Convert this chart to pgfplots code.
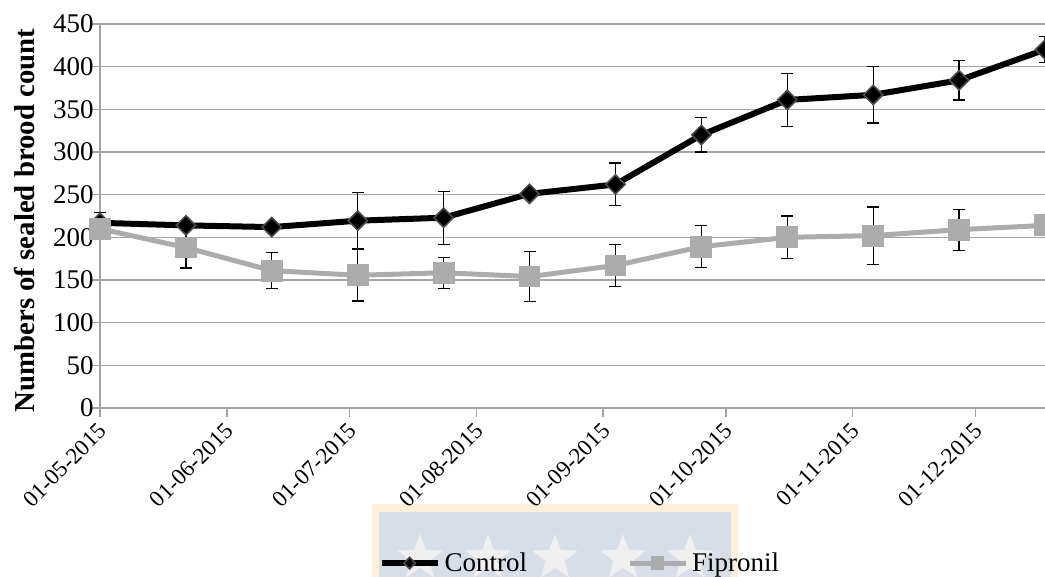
\documentclass[border=0pt]{standalone}
\usepackage{pgfplots}
\pgfplotsset{compat=1.18}
\usepackage{fontspec}
\setmainfont{Liberation Serif}
\usetikzlibrary{shapes.geometric}
\definecolor{gridgray}{RGB}{165,165,165}
\definecolor{fipgray}{RGB}{172,172,172}
\definecolor{wmcream}{RGB}{253,240,216}
\definecolor{wmblue}{RGB}{216,222,232}
\definecolor{wmstar}{RGB}{240,240,240}
\begin{document}
\begin{tikzpicture}
% faint logo box behind the legend
\fill[wmcream] (136pt,-84.5pt) rectangle (319pt,-48pt);
\fill[wmblue] (139.5pt,-84.5pt) rectangle (315.5pt,-51.85pt);
\foreach \x in {160,194,227.5,261.5,295}
  \node[star, star points=5, star point ratio=2.4, fill=wmstar, draw=none, minimum size=24pt, inner sep=0pt] at (\x pt,-75pt) {};
\begin{axis}[
  scale only axis, width=472.5pt, height=192pt,
  xmin=0, xmax=231, ymin=0, ymax=450,
  clip=false,
  axis x line*=bottom, axis y line*=left,
  axis line style={draw=gridgray, line width=0.75pt},
  ytick={0,50,...,450},
  xtick={0,31,61,92,123,153,184,214},
  xticklabels={01-05-2015,01-06-2015,01-07-2015,01-08-2015,01-09-2015,01-10-2015,01-11-2015,01-12-2015},
  x tick label style={rotate=45, anchor=north east, font=\fontsize{11.5}{13}\selectfont, inner sep=0.5pt, xshift=-2pt, yshift=0pt},
  y tick label style={font=\fontsize{13.5}{15}\selectfont, inner sep=0pt, xshift=1.5pt},
  /pgf/number format/assume math mode=true,
  ymajorgrids, grid style={gridgray, line width=0.75pt},
  tick align=outside, major tick length=4.5pt,
  tick style={gridgray, line width=0.75pt},
  ylabel={\bfseries Numbers of sealed brood count},
  y label style={at={(axis description cs:-0.0794,0.488)}, anchor=center, font=\fontsize{14.4}{16}\selectfont},
  legend style={at={(axis description cs:0.2945,-0.404)}, anchor=west, draw=none, fill=none, legend columns=2,
    font=\fontsize{13.5}{15}\selectfont, inner sep=0pt,
    /tikz/every even column/.append style={column sep=48pt}},
  legend cell align=left,
  legend image code/.code={\draw[#1,/tikz/every mark/.append style={scale=0.6}, mark repeat=2, mark phase=2] plot coordinates {(0pt,0pt) (14pt,0pt) (28pt,0pt)};},
  error bars/error bar style={black, line width=0.6pt},
  error bars/error mark options={rotate=90, mark size=3pt, black, line width=0.6pt},
]
\addplot[black, line width=3pt, mark=square*, mark size=3.4pt,
  mark options={rotate=45, fill=black, draw=black!70, line width=0.8pt},
  error bars/.cd, y dir=both, y explicit]
  coordinates {
  (0,217) +- (0,12)
  (21,214) +- (0,4)
  (42,212) +- (0,4)
  (63,219.5) +- (0,33)
  (84,223) +- (0,31)
  (105,251) +- (0,4)
  (126,262) +- (0,25)
  (147,320) +- (0,20)
  (168,361) +- (0,31)
  (189,367) +- (0,33)
  (210,384) +- (0,23)
  (231,420) +- (0,15)
  };
\addlegendentry{Control}
\addplot[fipgray, line width=2.5pt, mark=square*, mark size=5.2pt,
  mark options={fill=fipgray, draw=fipgray, line width=0pt},
  error bars/.cd, y dir=both, y explicit]
  coordinates {
  (0,210) +- (0,10)
  (21,188) +- (0,24)
  (42,161) +- (0,21)
  (63,155.5) +- (0,30)
  (84,158.5) +- (0,18)
  (105,154) +- (0,29)
  (126,167) +- (0,24.5)
  (147,189) +- (0,24.5)
  (168,200) +- (0,25)
  (189,202) +- (0,33.5)
  (210,209) +- (0,24)
  (231,214) +- (0,5)
  };
\addlegendentry{Fipronil}
\end{axis}
\pgfresetboundingbox
\path[use as bounding box] (-50pt,-84.5pt) rectangle (472.5pt,204pt);
\end{tikzpicture}
\end{document}
